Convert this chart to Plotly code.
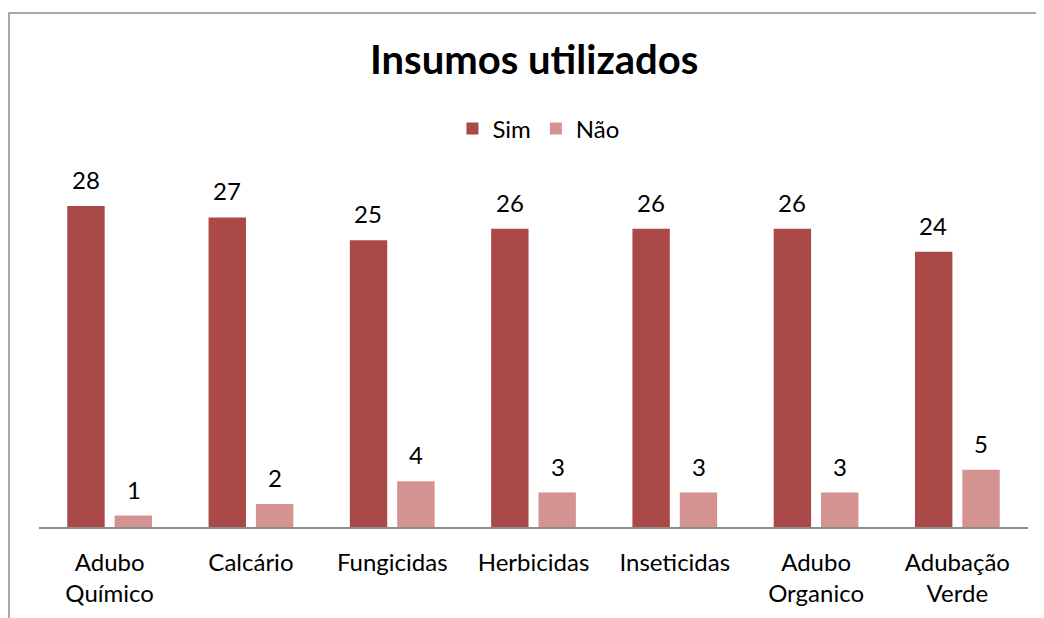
import plotly.graph_objects as go

# ----------------------------------
# DATA
# ----------------------------------

categories = [
    "Adubo<br>Químico",
    "Calcário",
    "Fungicidas",
    "Herbicidas",
    "Inseticidas",
    "Adubo<br>Organico",
    "Adubação<br>Verde",
]
sim = [28, 27, 25, 26, 26, 26, 24]
nao = [1, 2, 4, 3, 3, 3, 5]

SIM_COLOR = "#A94948"
NAO_COLOR = "#D49291"
FONT = "Lato"

# ----------------------------------
# FIGURE
# ----------------------------------

fig = go.Figure()

fig.add_trace(go.Bar(
    name="Sim",
    x=categories,
    y=sim,
    marker=dict(color=SIM_COLOR, line=dict(width=0)),
))

fig.add_trace(go.Bar(
    name="Não",
    x=categories,
    y=nao,
    marker=dict(color=NAO_COLOR, line=dict(width=0)),
))

# data labels above each bar
for cat, s, n in zip(categories, sim, nao):
    for val, dx in ((s, -24), (n, 24)):
        fig.add_annotation(
            x=cat, y=val, text=str(val),
            xref="x", yref="y",
            xshift=dx, yshift=10,
            yanchor="bottom", showarrow=False,
            font=dict(family=FONT, size=24, color="#000000"),
        )

# chart border (cropped at right and bottom)
fig.add_shape(
    type="path",
    xref="paper", yref="paper",
    path="M -0.0303,-0.3 L -0.0303,1.494 L 1.05,1.494",
    line=dict(color="#8C8C8C", width=1.5),
)

fig.update_layout(
    width=1044,
    height=618,
    margin=dict(l=31, r=24, t=175, b=99),
    paper_bgcolor="white",
    plot_bgcolor="white",
    font=dict(family=FONT, color="#000000"),
    title=dict(
        text="<b>Insumos utilizados</b>",
        x=0.504, xanchor="center",
        y=0.916, yanchor="middle",
        font=dict(family=FONT, size=40, color="#000000"),
    ),
    barmode="group",
    bargap=0.33,
    bargroupgap=0.21,
    legend=dict(
        orientation="h",
        x=0.505, xanchor="center",
        y=1.157, yanchor="middle",
        font=dict(family=FONT, size=24),
        itemwidth=30,
        traceorder="normal",
    ),
    showlegend=True,
)

fig.update_xaxes(
    showline=True,
    linecolor="#8C8C8C",
    linewidth=1.5,
    ticks="",
    tickfont=dict(family=FONT, size=24),
    ticklabelstandoff=13,
    showgrid=False,
)

fig.update_yaxes(
    range=[0, 30],
    visible=False,
    showgrid=False,
)

fig.write_html("out.html")
